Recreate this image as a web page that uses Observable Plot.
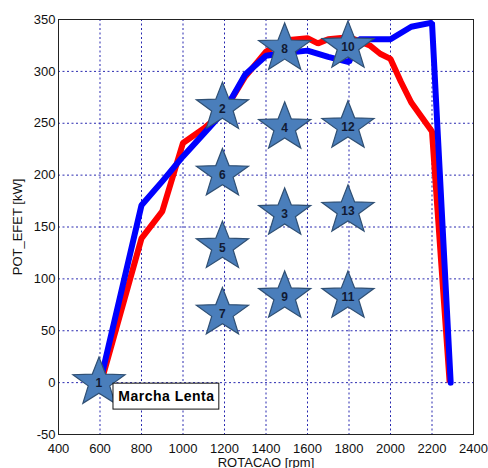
<!DOCTYPE html>
<html><head><meta charset="utf-8">
<script src="https://cdn.jsdelivr.net/npm/d3@7"></script>
<script src="https://cdn.jsdelivr.net/npm/@observablehq/plot@0.6"></script>
<style>
body{margin:0;background:#fff;}
#chart svg{font-family:"Liberation Sans",Arial,Helvetica,sans-serif;}
.note text{letter-spacing:0.5px;}
</style>
</head><body><div id="chart"></div>
<script>
// Blue curve
const rpmBlue = [600, 800, 900, 1000, 1100, 1200, 1300, 1400, 1500, 1600, 1700, 1800, 1850, 2000, 2100, 2200, 2290];
const potBlue = [0, 171, 194, 218, 240, 262, 297, 315, 318, 320, 314, 309, 331, 331, 343, 347, 0];
// Red curve
const rpmRed = [605, 800, 900, 1000, 1100, 1200, 1300, 1400, 1500, 1600, 1650, 1700, 1800, 1900, 1950, 2000, 2050, 2100, 2150, 2200, 2285];
const potRed = [0, 139, 165, 231, 245, 262, 295, 319, 330, 332, 327, 331, 333, 325, 317, 312, 290, 270, 256, 242, 0];
// Operating points (stars)
const pointLabels = ["1", "2", "3", "4", "5", "6", "7", "8", "9", "10", "11", "12", "13"];
const pointRpm = [595, 1190, 1490, 1490, 1190, 1190, 1190, 1490, 1490, 1795, 1795, 1795, 1795];
const pointPot = [0, 265, 163, 246, 131, 201, 67, 322, 83, 324, 83, 247, 166];
// Axis ticks
const xTicks = [400, 600, 800, 1000, 1200, 1400, 1600, 1800, 2000, 2200, 2400];
const yTicks = [-50, 0, 50, 100, 150, 200, 250, 300, 350];
// Annotation box
const noteText = ["Marcha Lenta"];
const noteX1 = [665], noteX2 = [1175], noteY1 = [-26], noteY2 = [-1];

const blue = rpmBlue.map((x, i) => ({x, y: potBlue[i]}));
const red = rpmRed.map((x, i) => ({x, y: potRed[i]}));
const pts = pointLabels.map((label, i) => ({label, x: pointRpm[i], y: pointPot[i]}));
const notes = noteText.map((label, i) => ({label, x1: noteX1[i], x2: noteX2[i], y1: noteY1[i], y2: noteY2[i]}));

// star symbol, slightly wider than tall like the reference
const ka = 0.8908130915292852, kr = Math.sin(Math.PI / 10) / Math.sin(7 * Math.PI / 10);
const starWide = {
  draw(context, size) {
    const r = Math.sqrt(size * ka), ri = r * kr * 1.08, sx = 1.07;
    for (let i = 0; i < 10; i++) {
      const a = Math.PI * i / 5 - Math.PI / 2;
      const rr = i % 2 ? ri : r;
      const px = Math.cos(a) * rr * sx, py = Math.sin(a) * rr;
      if (i === 0) context.moveTo(px, py); else context.lineTo(px, py);
    }
    context.closePath();
  }
};

const gridStyle = {stroke: "#2a2ab0", strokeOpacity: 1, strokeWidth: 1, strokeDasharray: "2,2.5"};
const fmt = d => String(d);

const chart = Plot.plot({
  width: 488,
  height: 468,
  marginLeft: 58,
  marginTop: 19,
  marginRight: 15,
  marginBottom: 34,
  style: {fontSize: "13px", fontFamily: "Liberation Sans, Arial, sans-serif", color: "#111", background: "#fff", overflow: "visible"},
  x: {domain: [400, 2400], ticks: xTicks},
  y: {domain: [-50, 350], ticks: yTicks},
  marks: [
    Plot.gridX(xTicks.slice(1, -1), gridStyle),
    Plot.gridY(yTicks.slice(1, -1), gridStyle),
    Plot.axisX(xTicks, {tickSize: 0, tickPadding: 9, tickFormat: fmt, label: "ROTACAO [rpm]", labelAnchor: "center", labelArrow: "none", labelOffset: 32, fill: "#111", fontSize: 13}),
    Plot.axisY(yTicks, {tickSize: 0, tickPadding: 3, tickFormat: fmt, label: "POT_EFET [kW]", labelAnchor: "center", labelArrow: "none", labelOffset: 46, fill: "#111", fontSize: 13}),
    Plot.line(red, {x: "x", y: "y", stroke: "#ff0000", strokeWidth: 6, strokeLinejoin: "miter", strokeLinecap: "butt"}),
    Plot.line(blue, {x: "x", y: "y", stroke: "#0000ff", strokeWidth: 6, strokeLinejoin: "miter", strokeLinecap: "round"}),
    Plot.dot(pts, {x: "x", y: "y", symbol: starWide, r: 15.3, fill: "#4a7ebb", stroke: "#2f4f73", strokeWidth: 1.2}),
    Plot.text(pts, {x: "x", y: "y", text: "label", fill: "#111a33", fontSize: 12, fontWeight: "bold", dy: 1}),
    Plot.rect(notes, {x1: "x1", x2: "x2", y1: "y1", y2: "y2", fill: "#fff", stroke: "#111", strokeWidth: 1}),
    Plot.text(notes, {x: d => (d.x1 + d.x2) / 2, y: d => (d.y1 + d.y2) / 2, text: "label", fontSize: 14, fontWeight: "bold", fill: "#000", className: "note"}),
    Plot.frame({stroke: "#222", strokeWidth: 1})
  ]
});
document.getElementById("chart").append(chart);
</script>
</body></html>
